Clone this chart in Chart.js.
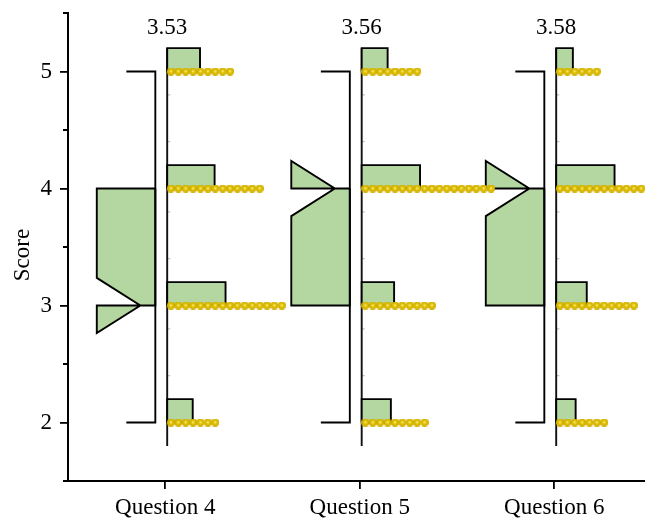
<!DOCTYPE html>
<html><head><meta charset="utf-8">
<script src="https://cdn.jsdelivr.net/npm/chart.js@4.4.1/dist/chart.umd.min.js"></script>
<style>html,body{margin:0;padding:0;overflow:hidden;background:#fff}#wrap{width:660px;height:518px;position:relative}</style>
</head><body><div id="wrap"><canvas id="c" width="660" height="518"></canvas></div>
<script>
// ---- data ----
const categories = ['Question 4', 'Question 5', 'Question 6'];
const scores = [2, 3, 4, 5];
const countsQ4 = [7, 16, 13, 9];
const countsQ5 = [9, 10, 18, 8];
const countsQ6 = [7, 11, 21, 6];
const minVals = [2, 2, 2];
const q1Vals = [3, 3, 3];
const medianVals = [3, 4, 4];
const q3Vals = [4, 4, 4];
const maxVals = [5, 5, 5];
const notchLow = [2.764, 3.764, 3.764];
const notchHigh = [3.236, 4.236, 4.236];
const meanLabels = ['3.53', '3.56', '3.58'];
const yTickValues = [2, 3, 4, 5];
const yMinorTicks = [1.5, 2.5, 3.5, 4.5, 5.5];
const histRange = [1.8, 5.2];
const emptyBinEdges = [2.4, 2.8, 3.4, 3.8, 4.4, 4.8];

// ---- layout (in category units relative to category centre) ----
const BOX_L = -0.352, BOX_R = -0.051, NOTCH_X = -0.128, CAP_L = -0.2;
const BASE = 0.01, BAR_MAX = 0.3, BIN = 0.2, DOT_SP = 0.038, DOT_R = 0.019;
const GREEN = '#b4d6a0';
const FONT = '"Liberation Serif", "Times New Roman", serif';
const LW = 1.9;

const allCounts = [countsQ4, countsQ5, countsQ6];

// sphere sprite for dots
const sprite = document.createElement('canvas');
sprite.width = 8; sprite.height = 8;
(function () {
  const g = sprite.getContext('2d');
  const grad = g.createRadialGradient(4, 3.8, 0, 4, 4, 4);
  grad.addColorStop(0, '#fffbd8');
  grad.addColorStop(0.18, '#f4e060');
  grad.addColorStop(0.42, '#e0c200');
  grad.addColorStop(1, '#cdab00');
  g.fillStyle = grad;
  g.beginPath(); g.arc(4, 4, 4, 0, Math.PI * 2); g.fill();
})();

const datasets = [];
const dots = [];
categories.forEach((cat, i) => {
  const c = i + 1;
  // notched half box
  datasets.push({
    type: 'line', order: 3, fill: 'shape', backgroundColor: GREEN,
    borderColor: '#000', borderWidth: LW, pointRadius: 0, tension: 0, borderJoinStyle: 'miter',
    data: [
      {x: c + BOX_R, y: q3Vals[i]}, {x: c + BOX_L, y: q3Vals[i]},
      {x: c + BOX_L, y: notchHigh[i]}, {x: c + NOTCH_X, y: medianVals[i]},
      {x: c + BOX_L, y: notchLow[i]}, {x: c + BOX_L, y: q1Vals[i]},
      {x: c + BOX_R, y: q1Vals[i]}, {x: c + BOX_R, y: q3Vals[i]}
    ]
  });
  // whisker bracket
  datasets.push({
    type: 'line', order: 2, fill: false, borderColor: '#000', borderWidth: LW,
    pointRadius: 0, tension: 0,
    data: [
      {x: c + CAP_L, y: maxVals[i]}, {x: c + BOX_R, y: maxVals[i]},
      {x: c + BOX_R, y: minVals[i]}, {x: c + CAP_L, y: minVals[i]}
    ]
  });
  // histogram baseline
  datasets.push({
    type: 'line', order: 2, fill: false, borderColor: '#111', borderWidth: LW,
    pointRadius: 0, tension: 0,
    data: [{x: c + BASE, y: histRange[0]}, {x: c + BASE, y: histRange[1]}]
  });
  // faint marks of the empty bins
  const marks = [];
  emptyBinEdges.forEach(v => {
    marks.push({x: c + BASE, y: v}, {x: c + BASE + 0.016, y: v}, {x: null, y: null});
  });
  datasets.push({
    type: 'line', order: 2, fill: false, borderColor: '#c4c4c4', borderWidth: 1.2,
    pointRadius: 0, tension: 0, spanGaps: false, data: marks
  });
  const counts = allCounts[i];
  const maxC = Math.max(...counts);
  scores.forEach((s, k) => {
    const n = counts[k];
    const b = c + BASE, e = b + n / maxC * BAR_MAX;
    datasets.push({
      type: 'line', order: 1, fill: 'shape', backgroundColor: GREEN,
      borderColor: '#000', borderWidth: LW, pointRadius: 0, tension: 0, borderJoinStyle: 'miter',
      data: [{x: b, y: s}, {x: b, y: s + BIN}, {x: e, y: s + BIN}, {x: e, y: s}, {x: b, y: s}]
    });
    for (let j = 0; j < n; j++) dots.push({x: b + DOT_R + j * DOT_SP, y: s});
  });
});
datasets.push({
  type: 'scatter', order: 0, data: dots, pointStyle: sprite, pointRadius: 4, showLine: false
});

const extras = {
  id: 'extras',
  afterDraw(chart) {
    const {ctx, scales: {x, y}} = chart;
    ctx.save();
    ctx.strokeStyle = '#000'; ctx.lineWidth = 1.8;
    ctx.beginPath();
    yMinorTicks.forEach(v => {
      const py = y.getPixelForValue(v);
      ctx.moveTo(x.left - 5, py); ctx.lineTo(x.left, py);
    });
    ctx.stroke();
    ctx.fillStyle = '#000';
    ctx.font = '23px ' + FONT;
    ctx.textAlign = 'center'; ctx.textBaseline = 'middle';
    meanLabels.forEach((t, i) => {
      ctx.fillText(t, x.getPixelForValue(i + 1 + BASE), y.getPixelForValue(5.375));
    });
    ctx.translate(22.7, 255);
    ctx.rotate(-Math.PI / 2);
    ctx.fillText('Score', 0, 0);
    ctx.restore();
  }
};

new Chart(document.getElementById('c'), {
  type: 'scatter',
  data: {datasets},
  options: {
    responsive: false, animation: false,
    layout: {padding: {top: 13, right: 8.5, left: 0, bottom: 0}},
    plugins: {legend: {display: false}, tooltip: {enabled: false}},
    scales: {
      x: {
        type: 'linear', min: 0.5, max: 3.5,
        afterBuildTicks: s => { s.ticks = [1, 2, 3].map(v => ({value: v})); },
        afterFit: s => { s.height = 37; s.paddingLeft = 0; s.paddingRight = 0; },
        ticks: {color: '#000', font: {family: FONT, size: 23}, padding: 5,
          callback: v => categories[Math.round(v) - 1] || ''},
        grid: {drawOnChartArea: false, drawTicks: true, tickLength: 8, color: '#000', lineWidth: 1.8},
        border: {display: true, color: '#000', width: 2}
      },
      y: {
        type: 'linear', min: 1.5, max: 5.5,
        afterBuildTicks: s => { s.ticks = yTickValues.map(v => ({value: v})); },
        afterFit: s => { s.width = 68; s.paddingTop = 0; s.paddingBottom = 0; },
        ticks: {color: '#000', font: {family: FONT, size: 23}, padding: 8},
        grid: {drawOnChartArea: false, drawTicks: true, tickLength: 8, color: '#000', lineWidth: 1.8},
        border: {display: true, color: '#000', width: 2}
      }
    }
  },
  plugins: [extras]
});
</script></body></html>
